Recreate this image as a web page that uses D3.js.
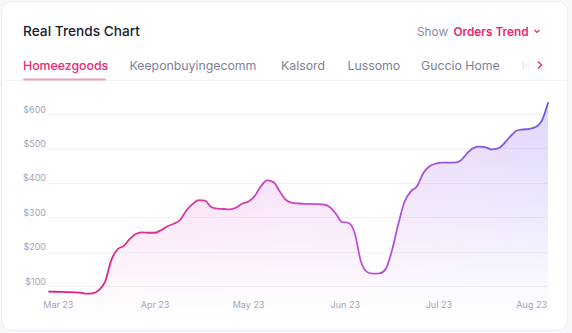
<!DOCTYPE html>
<html>
<head>
<meta charset="utf-8">
<script src="https://cdn.jsdelivr.net/npm/d3@7"></script>
<style>
  html, body { margin: 0; padding: 0; background: #f7f8fa; }
  svg { display: block; font-family: Inter, "Open Sans", sans-serif; }
</style>
</head>
<body>
<svg id="chart" width="572" height="333"></svg>
<script>
// ---- data ----
const title = "Real Trends Chart";
const tabs = ["Homeezgoods", "Keeponbuyingecomm", "Kalsord", "Lussomo", "Guccio Home", "H"];
const startDate = new Date(2023, 1, 26);
const endDate = new Date(2023, 7, 5);
const stepDays = 2;
const orders = [84, 83.5, 83, 82.5, 82, 81, 78, 79, 88, 113,
  176, 207, 217, 238, 252, 256, 255, 255, 263, 274,
  281, 292, 319, 338, 350, 348, 330, 325, 324, 323,
  328, 340, 346, 362, 391, 407, 402, 375, 350, 342,
  340, 339, 339, 338, 337, 330, 310, 286, 284, 255,
  172, 141, 136, 137, 150, 205, 280, 345, 375, 390,
  428, 448, 456, 459, 459, 459, 465, 485, 501, 505,
  503, 497, 500, 515, 536, 552, 555, 557, 562, 580, 632];
const yTicks = [100, 200, 300, 400, 500, 600];
const monthTicks = [new Date(2023,2,1), new Date(2023,3,1), new Date(2023,4,1), new Date(2023,5,1), new Date(2023,6,1), new Date(2023,7,1)];

const dates = orders.map((_, i) => d3.timeDay.offset(startDate, i * stepDays));
const data = orders.map((v, i) => ({ date: dates[i], value: v }));

const svg = d3.select("#chart");
const defs = svg.append("defs");

// card
svg.append("rect").attr("x", 1.5).attr("y", 1.5).attr("width", 566).attr("height", 329)
  .attr("rx", 10).attr("fill", "#ffffff").attr("stroke", "#e9edf3");

// header
svg.append("text").attr("x", 23).attr("y", 36).text(title)
  .attr("font-size", 13.7).attr("font-weight", 500).attr("fill", "#181c32");
svg.append("text").attr("x", 417).attr("y", 36).text("Show")
  .attr("font-size", 11.8).attr("fill", "#8a8da6");
svg.append("text").attr("x", 453.5).attr("y", 36).text("Orders Trend")
  .attr("font-size", 11.8).attr("font-weight", 600).attr("fill", "#e9286f");
svg.append("path").attr("d", "M534.5,30 L537,32.5 L539.5,30")
  .attr("fill", "none").attr("stroke", "#e9286f").attr("stroke-width", 1.2);

// tabs
const tabX = [23, 129.5, 281, 347.5, 421, 521.5];
const fade = defs.append("linearGradient").attr("id", "fadeH");
fade.append("stop").attr("offset", 0).attr("stop-color", "#b5b8c8").attr("stop-opacity", 0.45);
fade.append("stop").attr("offset", 1).attr("stop-color", "#b5b8c8").attr("stop-opacity", 0.1);
tabs.forEach((t, i) => {
  svg.append("text").attr("x", tabX[i]).attr("y", 69.5).text(t)
    .attr("font-size", 12.3).attr("font-weight", i === 0 ? 500 : 400)
    .attr("fill", i === 0 ? "#e9286f" : (i === 5 ? "url(#fadeH)" : "#7e8299"));
});
svg.append("line").attr("x1", 0).attr("x2", 567).attr("y1", 80.5).attr("y2", 80.5)
  .attr("stroke", "#f3f4f7");
svg.append("rect").attr("x", 23).attr("y", 78.5).attr("width", 83).attr("height", 2)
  .attr("rx", 1).attr("fill", "#eaa0c2");
svg.append("path").attr("d", "M538,61.5 L541.5,65 L538,68.5")
  .attr("fill", "none").attr("stroke", "#e9286f").attr("stroke-width", 1.4);

// scales
const x = d3.scaleTime().domain([startDate, endDate]).range([49, 548]);
const y = d3.scaleLinear().domain([0, 600]).range([320.5, 114]);

// gridlines
svg.append("g").selectAll("line").data(yTicks).join("line")
  .attr("x1", 48).attr("x2", 548)
  .attr("y1", d => Math.round(y(d)) + 0.5).attr("y2", d => Math.round(y(d)) + 0.5)
  .attr("stroke", "#eff1f5");

// y labels
svg.append("g").selectAll("text").data(yTicks).join("text")
  .attr("x", 46).attr("y", d => y(d) - 1.5).attr("text-anchor", "end")
  .attr("font-size", 9).attr("fill", "#a1a5b7")
  .text(d => "$" + d);

// gradients
const lg = defs.append("linearGradient").attr("id", "lineGrad")
  .attr("gradientUnits", "userSpaceOnUse").attr("x1", 49).attr("x2", 548).attr("y1", 0).attr("y2", 0);
[[0, "#e8197c"], [0.35, "#d93aae"], [0.62, "#bf50dc"], [1, "#7256e6"]].forEach(([o, c]) =>
  lg.append("stop").attr("offset", o).attr("stop-color", c));

const ag = defs.append("linearGradient").attr("id", "areaGrad")
  .attr("gradientUnits", "userSpaceOnUse").attr("x1", 49).attr("x2", 548).attr("y1", 0).attr("y2", 0);
[[0, "#f25cb5"], [0.5, "#d96ee8"], [1, "#8c6cf2"]].forEach(([o, c]) =>
  ag.append("stop").attr("offset", o).attr("stop-color", c));

const vg = defs.append("linearGradient").attr("id", "vFade")
  .attr("gradientUnits", "userSpaceOnUse").attr("x1", 0).attr("x2", 0).attr("y1", 100).attr("y2", 320);
vg.append("stop").attr("offset", 0).attr("stop-color", "#fff").attr("stop-opacity", 0.28);
vg.append("stop").attr("offset", 0.55).attr("stop-color", "#fff").attr("stop-opacity", 0.14);
vg.append("stop").attr("offset", 1).attr("stop-color", "#fff").attr("stop-opacity", 0.0);
defs.append("mask").attr("id", "areaMask").attr("maskUnits", "userSpaceOnUse")
  .attr("x", 0).attr("y", 0).attr("width", 572).attr("height", 333)
  .append("rect").attr("x", 0).attr("y", 0).attr("width", 572).attr("height", 333).attr("fill", "url(#vFade)");

// area + line
const area = d3.area().x(d => x(d.date)).y0(y(0)).y1(d => y(d.value)).curve(d3.curveMonotoneX);
const line = d3.line().x(d => x(d.date)).y(d => y(d.value)).curve(d3.curveMonotoneX);

svg.append("path").datum(data).attr("d", area)
  .attr("fill", "url(#areaGrad)").attr("mask", "url(#areaMask)");
svg.append("path").datum(data).attr("d", line)
  .attr("fill", "none").attr("stroke", "url(#lineGrad)").attr("stroke-width", 1.8)
  .attr("stroke-linejoin", "round").attr("stroke-linecap", "round");

// x labels
const fmt = d3.timeFormat("%b %y");
const xl = svg.append("g").selectAll("text").data(monthTicks).join("text")
  .attr("x", d => x(d)).attr("y", 307.5).attr("text-anchor", "middle")
  .attr("font-size", 9).attr("fill", "#a1a5b7")
  .text(d => fmt(d));
xl.each(function() {
  const w = this.getComputedTextLength();
  const cx = +this.getAttribute("x");
  if (cx + w / 2 > 547) this.setAttribute("x", 547 - w / 2);
});
</script>
</body>
</html>
